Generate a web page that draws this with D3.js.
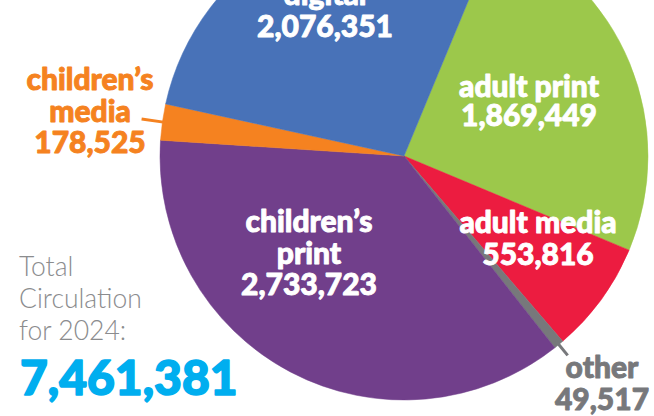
<!DOCTYPE html>
<html>
<head>
<meta charset="utf-8">
<script src="https://cdn.jsdelivr.net/npm/d3@7"></script>
<style>
  html, body { margin: 0; padding: 0; background: #fff; }
  svg { display: block; }
  .lbl { font-family: Lato, "Open Sans", sans-serif; font-weight: 900; paint-order: stroke; stroke-linejoin: round; }
  .total-cap { font-family: Lato, sans-serif; font-weight: 300; fill: #8b8c8e; }
</style>
</head>
<body>
<div id="chart"></div>
<script>
// circulation by format, 2024 (clockwise from the digital / adult print edge)
const categories = ['adult print', 'adult media', 'other', 'children\u2019s print', 'children\u2019s media', 'digital'];
const values     = [1869449, 553816, 49517, 2733723, 178525, 2076351];
const colors     = ['#9cc84b', '#ec1c40', '#77787b', '#713f8b', '#f58220', '#4872b8'];
const totalLabel = ['Total', 'Circulation', 'for 2024:'];

const W = 654, H = 416;
const cx = 404, cy = 156, R = 244;
const startDeg = 22.5;

// where each label block sits (center x, first baseline y, line height), and label colour
const labelLayout = {
  'adult print':        { x: 529, y: 97,  lh: 28.5, fill: '#fff', lines: ['adult print'] },
  'adult media':        { x: 538, y: 233, lh: 32,   fill: '#fff', lines: ['adult media'] },
  'other':              { x: 602, y: 378, lh: 32,   fill: '#77787b', lines: ['other'], leader: true },
  'children\u2019s print': { x: 309, y: 232, lh: 31.5, fill: '#fff', lines: ['children\u2019s', 'print'] },
  'children\u2019s media': { x: 90,  y: 90,  lh: 31.5, fill: '#f58220', lines: ['children\u2019s', 'media'], leader: true },
  'digital':            { x: 325, y: 5,   lh: 32,   fill: '#fff', lines: ['digital'] }
};

const svg = d3.select('#chart').append('svg').attr('width', W).attr('height', H);

const data = categories.map((c, i) => ({ cat: c, value: values[i], color: colors[i] }));
const total = d3.sum(values);

const pie = d3.pie().value(d => d.value).sort(null)
  .startAngle(startDeg * Math.PI / 180)
  .endAngle((startDeg + 360) * Math.PI / 180);
const arc = d3.arc().innerRadius(0).outerRadius(R);

const g = svg.append('g').attr('transform', `translate(${cx},${cy})`);
const arcs = pie(data);

g.selectAll('path.slice')
  .data(arcs)
  .join('path')
  .attr('class', 'slice')
  .attr('d', arc)
  .attr('fill', d => d.data.color)
  .attr('stroke', d => d.data.color)
  .attr('stroke-width', 0.5);

// leader lines for the small outside-labelled slices
const fmt = d3.format(',');
arcs.filter(d => labelLayout[d.data.cat].leader).forEach(d => {
  const a = (d.startAngle + d.endAngle) / 2;
  const r0 = d.data.cat === 'other' ? R - 5 : R - 1;
  const r1 = d.data.cat === 'other' ? R + 14 : R + 21;
  g.append('line')
    .attr('x1', Math.sin(a) * r0).attr('y1', -Math.cos(a) * r0)
    .attr('x2', Math.sin(a) * r1).attr('y2', -Math.cos(a) * r1)
    .attr('stroke', d.data.color).attr('stroke-width', 3);
});

// slice labels
arcs.forEach(d => {
  const L = labelLayout[d.data.cat];
  const t = svg.append('text').attr('class', 'lbl')
    .attr('text-anchor', 'middle')
    .attr('font-size', 30)
    .attr('fill', L.fill)
    .attr('stroke', L.fill)
    .attr('stroke-width', 0.9);
  L.lines.concat([fmt(d.data.value)]).forEach((s, i) => {
    t.append('tspan').attr('x', L.x).attr('y', L.y + i * L.lh).text(s);
  });
});

// total block
const tc = svg.append('text').attr('class', 'total-cap').attr('font-size', 26.5);
totalLabel.forEach((s, i) => {
  tc.append('tspan').attr('x', 19).attr('y', 276 + i * 32).text(s);
});
svg.append('text').attr('class', 'lbl')
  .attr('x', 20).attr('y', 395)
  .attr('font-size', 48)
  .attr('fill', '#00aeef')
  .attr('stroke', '#00aeef')
  .attr('stroke-width', 1.6)
  .text(fmt(total));
</script>
</body>
</html>
